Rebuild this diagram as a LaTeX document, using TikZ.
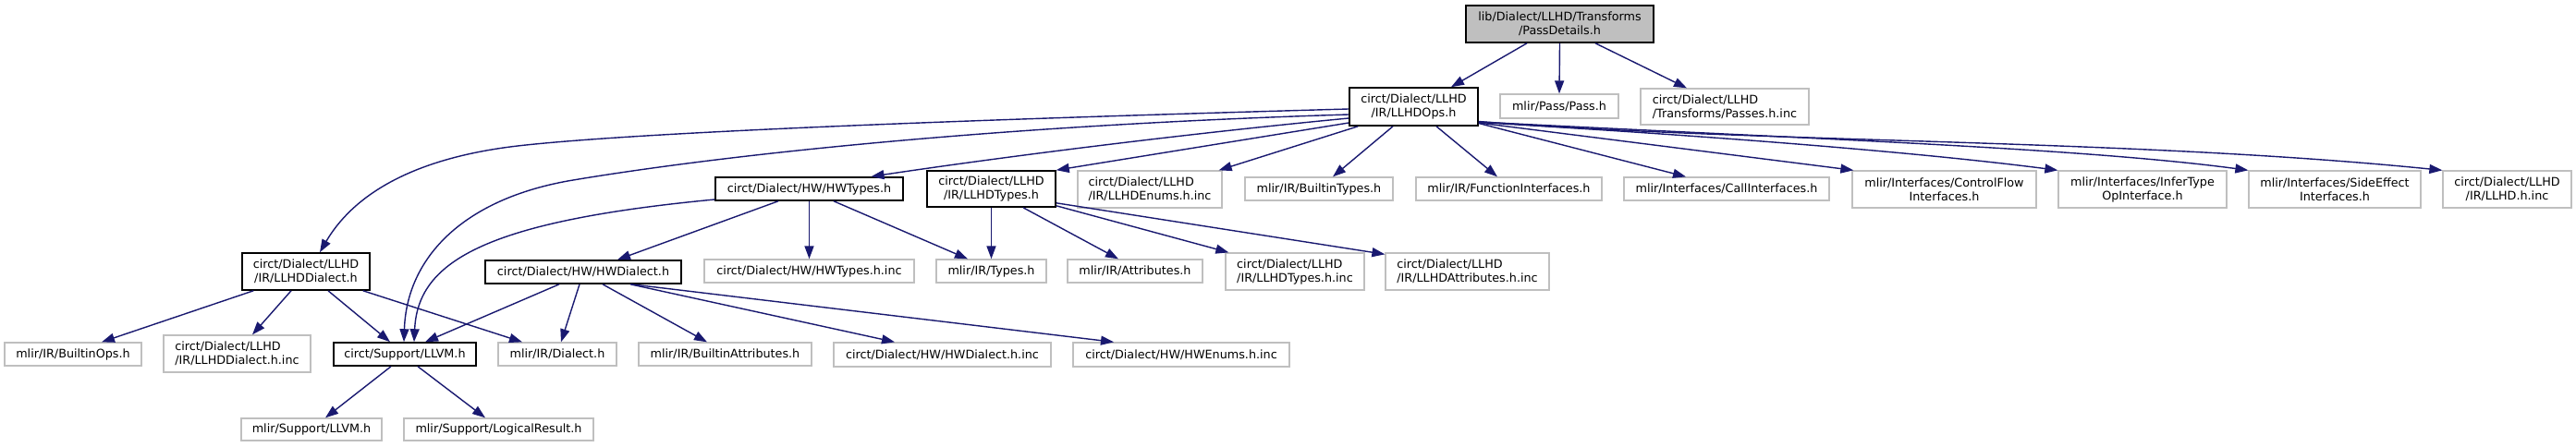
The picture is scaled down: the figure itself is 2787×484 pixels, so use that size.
\documentclass[tikz,border=0pt]{standalone}
\usepackage{fontspec}
\setmainfont{DejaVu Sans}
\usetikzlibrary{arrows.meta,calc}
\definecolor{edgeblue}{HTML}{191970}
\definecolor{greyline}{HTML}{BFBFBF}
\newcommand\graphfont{\fontsize{12.75pt}{15pt}\selectfont}
\tikzset{
  base/.style={rectangle, inner sep=0pt, font=\graphfont, text=black},
  doc/.style={base, draw=black, line width=1.6pt},
  ext/.style={base, draw=greyline, line width=1.3pt},
  cur/.style={base, draw=black, fill=greyline, line width=1.6pt},
  sz/.style 2 args={minimum width=#1pt, minimum height=#2pt},
  e/.style={draw=edgeblue, line width=1.4pt, -{Triangle[length=14pt,width=10pt]}},
}
\begin{document}
\begin{tikzpicture}[x=1pt,y=-1pt]
\useasboundingbox[fill=white] (0,0) rectangle (2787,484);
% row 1
\node[cur, sz={203}{40}, align=center] (pd) at (1687.5,26) {lib/Dialect/LLHD/Transforms\\/PassDetails.h};
% row 2
\node[doc, sz={139}{41}, align=center] (ops) at (1529.5,115.5) {circt/Dialect/LLHD\\/IR/LLHDOps.h};
\node[ext, sz={128}{26}] (pass) at (1687,115) {mlir/Pass/Pass.h};
\node[ext, sz={182}{39}, align=left] (passes) at (1866,115.5) {circt/Dialect/LLHD\\/Transforms/Passes.h.inc};
% row 3
\node[doc, sz={203}{25}] (hwt) at (875.5,204.5) {circt/Dialect/HW/HWTypes.h};
\node[doc, sz={139}{39}, align=center] (llt) at (1072.5,204.5) {circt/Dialect/LLHD\\/IR/LLHDTypes.h};
\node[ext, sz={156}{40}, align=left] (enums) at (1244,205) {circt/Dialect/LLHD\\/IR/LLHDEnums.h.inc};
\node[ext, sz={160}{25}] (bt) at (1427,204.5) {mlir/IR/BuiltinTypes.h};
\node[ext, sz={201}{25}] (fi) at (1632.5,204.5) {mlir/IR/FunctionInterfaces.h};
\node[ext, sz={222}{25}] (ci) at (1868,204.5) {mlir/Interfaces/CallInterfaces.h};
\node[ext, sz={199}{40}, align=center] (cf) at (2103.5,205) {mlir/Interfaces/ControlFlow\\Interfaces.h};
\node[ext, sz={182}{40}, align=center] (it) at (2318,205) {mlir/Interfaces/InferType\\OpInterface.h};
\node[ext, sz={186}{40}, align=center] (se) at (2526,205) {mlir/Interfaces/SideEffect\\Interfaces.h};
\node[ext, sz={139}{40}, align=center] (llhdinc) at (2712.5,205) {circt/Dialect/LLHD\\/IR/LLHD.h.inc};
% row 4
\node[doc, sz={138}{40}, align=center] (lld) at (331,294) {circt/Dialect/LLHD\\/IR/LLHDDialect.h};
\node[doc, sz={212}{25}] (hwd) at (631,294.5) {circt/Dialect/HW/HWDialect.h};
\node[ext, sz={227}{25}] (hwtinc) at (875.5,293.5) {circt/Dialect/HW/HWTypes.h.inc};
\node[ext, sz={119}{25}] (types) at (1072.5,293.5) {mlir/IR/Types.h};
\node[ext, sz={146}{25}] (attr) at (1228,293.5) {mlir/IR/Attributes.h};
\node[ext, sz={150}{40}, align=left] (lltinc) at (1401,294) {circt/Dialect/LLHD\\/IR/LLHDTypes.h.inc};
\node[ext, sz={177}{40}, align=left] (llainc) at (1587.5,294) {circt/Dialect/LLHD\\/IR/LLHDAttributes.h.inc};
% row 5
\node[ext, sz={148}{25}] (bops) at (79,383.5) {mlir/IR/BuiltinOps.h};
\node[ext, sz={159}{40}, align=left] (lldinc) at (256.5,383) {circt/Dialect/LLHD\\/IR/LLHDDialect.h.inc};
\node[doc, sz={154}{25}] (llvm) at (438,383.5) {circt/Support/LLVM.h};
\node[ext, sz={128}{25}] (dia) at (603,383.5) {mlir/IR/Dialect.h};
\node[ext, sz={187}{25}] (ba) at (784.5,383.5) {mlir/IR/BuiltinAttributes.h};
\node[ext, sz={235}{26}] (hwdinc) at (1019.5,384) {circt/Dialect/HW/HWDialect.h.inc};
\node[ext, sz={234}{26}] (hwenum) at (1278,384) {circt/Dialect/HW/HWEnums.h.inc};
% row 6
\node[ext, sz={152}{24}] (mllvm) at (337,465) {mlir/Support/LLVM.h};
\node[ext, sz={205}{24}] (lr) at (539.5,465) {mlir/Support/LogicalResult.h};
% edges from PassDetails
\draw[e] ($(pd.south)+(-35.5,0)$) -- ($(ops.north)+(40.5,0)$);
\draw[e] (pd.south) -- (pass.north);
\draw[e] ($(pd.south)+(38.5,0)$) -- ($(passes.north)+(-41,0)$);
% edges from LLHDOps
\draw[e] ($(ops.west)+(0,2.5)$) .. controls (1100,128) and (700,142) .. (560,158) .. controls (440,172) and (380,215) .. ($(lld.north)+(15,0)$);
\draw[e] ($(ops.west)+(0,8.5)$) .. controls (1100,135) and (800,165) .. (620,195) .. controls (500,215) and (440,280) .. ($(llvm.north)+(-1,0)$);
\draw[e] ($(ops.west)+(0,12.5)$) .. controls (1250,148) and (1050,175) .. ($(hwt.north)+(67,0)$);
\draw[e] ($(ops.west)+(0,17.5)$) -- (llt.north east);
\draw[e] ($(ops.south west)+(10,0)$) -- ($(enums.north east)+(-4,0)$);
\draw[e] ($(ops.south)+(-22.5,0)$) -- ($(bt.north)+(15,0)$);
\draw[e] ($(ops.south)+(24.5,0)$) -- ($(fi.north)+(-12.5,0)$);
\draw[e] ($(ops.east)+(0,18)$) -- ($(ci.north)+(-44,0)$);
\draw[e] ($(ops.east)+(0,17.5)$) -- ($(cf.north west)+(2,0)$);
\draw[e] ($(ops.east)+(0,17)$) .. controls (1900,150) and (2100,168) .. (it.north west);
\draw[e] ($(ops.east)+(0,16.5)$) .. controls (1950,150) and (2250,160) .. (se.north west);
\draw[e] ($(ops.east)+(0,16)$) .. controls (1900,155) and (2300,150) .. (llhdinc.north west);
% edges from HWTypes
\draw[e] ($(hwt.south)+(-33.5,0)$) -- ($(hwd.north)+(37,0)$);
\draw[e] (hwt.south) -- (hwtinc.north);
\draw[e] ($(hwt.south)+(26.5,0)$) -- ($(types.north)+(-25.5,0)$);
\draw[e] ($(hwt.west)+(0,11.5)$) .. controls (520,240) and (452,285) .. ($(llvm.north)+(10,0)$);
% edges from LLHDTypes
\draw[e] (llt.south) -- (types.north);
\draw[e] ($(llt.south)+(34.5,0)$) -- ($(attr.north)+(-18,0)$);
\draw[e] ($(llt.south east)+(0,-2)$) -- ($(lltinc.north west)+(4,0)$);
\draw[e] ($(llt.south east)+(0,-5)$) -- ($(llainc.north west)+(0,2)$);
% edges from LLHDDialect
\draw[e] ($(lld.south west)+(13,0)$) -- ($(bops.north)+(31,0)$);
\draw[e] ($(lld.south)+(-16,0)$) -- ($(lldinc.north)+(16.5,0)$);
\draw[e] ($(lld.south)+(24,0)$) -- ($(llvm.north)+(-16,0)$);
\draw[e] ($(lld.south east)+(-8,0)$) -- ($(dia.north)+(-38,0)$);
% edges from HWDialect
\draw[e] ($(hwd.south)+(-26,0)$) -- ($(llvm.north)+(22,0)$);
\draw[e] ($(hwd.south)+(-4,0)$) -- ($(dia.north)+(4,0)$);
\draw[e] ($(hwd.south)+(21,0)$) -- ($(ba.north)+(-19.5,0)$);
\draw[e] ($(hwd.south)+(51,0)$) -- ($(hwdinc.north)+(-51.5,0)$);
\draw[e] ($(hwd.south)+(52,0)$) -- ($(hwenum.north)+(-73,0)$);
% edges from Support/LLVM
\draw[e] ($(llvm.south)+(-15,0)$) -- ($(mllvm.north)+(15,0)$);
\draw[e] ($(llvm.south)+(14,0)$) -- ($(lr.north)+(-14.5,0)$);
\end{tikzpicture}
\end{document}
